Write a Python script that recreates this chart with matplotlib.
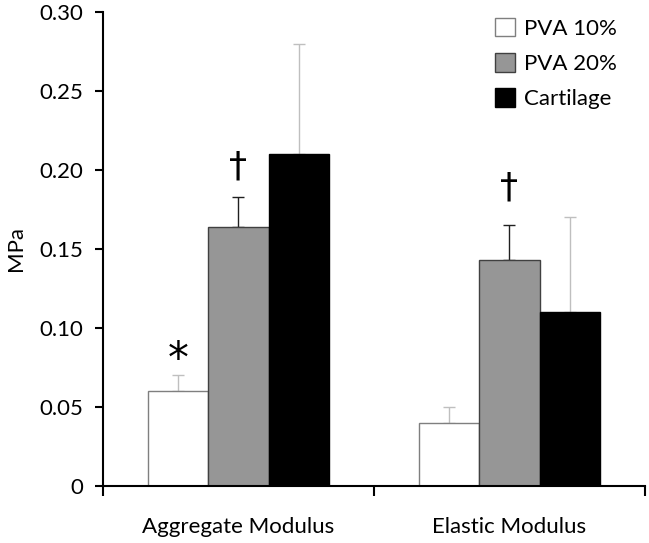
import matplotlib
matplotlib.use("Agg")
import matplotlib.pyplot as plt
from matplotlib.patches import Patch
import numpy as np

plt.rcParams['font.family'] = ['Lato', 'DejaVu Sans']

categories = ["Aggregate Modulus", "Elastic Modulus"]
series = ["PVA 10%", "PVA 20%", "Cartilage"]
pva10 = [0.060, 0.040]
pva10_err = [0.010, 0.010]
pva20 = [0.164, 0.143]
pva20_err = [0.019, 0.022]
cart = [0.210, 0.110]
cart_err = [0.070, 0.060]
yticks = [0, 0.05, 0.10, 0.15, 0.20, 0.25, 0.30]
ytick_labels = ["0", "0.05", "0.10", "0.15", "0.20", "0.25", "0.30"]

fig = plt.figure(figsize=(6.49, 5.43), dpi=100)
ax = fig.add_axes([0.1587, 0.105, 0.835, 0.873])

x = np.arange(len(categories))
w = 0.222
vals = [pva10, pva20, cart]
errs = [pva10_err, pva20_err, cart_err]
faces = ["white", "#969696", "black"]
edges = ["#7f7f7f", "#404040", "black"]
ecols = ["#bfbfbf", "#202020", "#bfbfbf"]
for i in range(3):
    pos = x + (i - 1) * w
    ax.bar(pos, vals[i], width=w, color=faces[i], edgecolor=edges[i], linewidth=1.0, zorder=2)
    ax.errorbar(pos, vals[i], yerr=[np.zeros(2), errs[i]], fmt='none', ecolor=ecols[i],
                elinewidth=1.0, capsize=4, capthick=1.0, zorder=1)

fs = 16
ax.set_xlim(-0.5, 1.5)
ax.set_ylim(0, 0.30)
ax.set_yticks(yticks)
ax.set_yticklabels(ytick_labels, fontsize=fs)
ax.set_xticks(x)
ax.set_xticklabels(categories, fontsize=fs)
ax.tick_params(axis='x', length=0, pad=22)
ax.set_xticks([-0.5, 0.5, 1.5], minor=True)
ax.tick_params(axis='x', which='minor', length=7, direction='out', width=1.5)
ax.tick_params(axis='y', length=6, direction='out', width=1.5, pad=8)
ax.set_ylabel("MPa", fontsize=fs, labelpad=10)
ax.spines['top'].set_visible(False)
ax.spines['right'].set_visible(False)
ax.spines['left'].set_linewidth(1.5)
ax.spines['bottom'].set_linewidth(1.5)

# significance markers
ax.text(x[0] - w, 0.080, "*", fontsize=30, ha='center', va='center', family='DejaVu Sans')
ax.text(x[0], 0.2025, "†", fontsize=26, ha='center', va='center', family='DejaVu Sans')
ax.text(x[1], 0.189, "†", fontsize=26, ha='center', va='center', family='DejaVu Sans')

handles = [Patch(facecolor=faces[i], edgecolor=edges[i], label=series[i]) for i in range(3)]
ax.legend(handles=handles, loc='upper right', frameon=False, fontsize=fs,
          handlelength=0.9, handleheight=0.9, handletextpad=0.4, labelspacing=0.65,
          bbox_to_anchor=(0.985, 1.03))

fig.savefig("out.png", dpi=100)
